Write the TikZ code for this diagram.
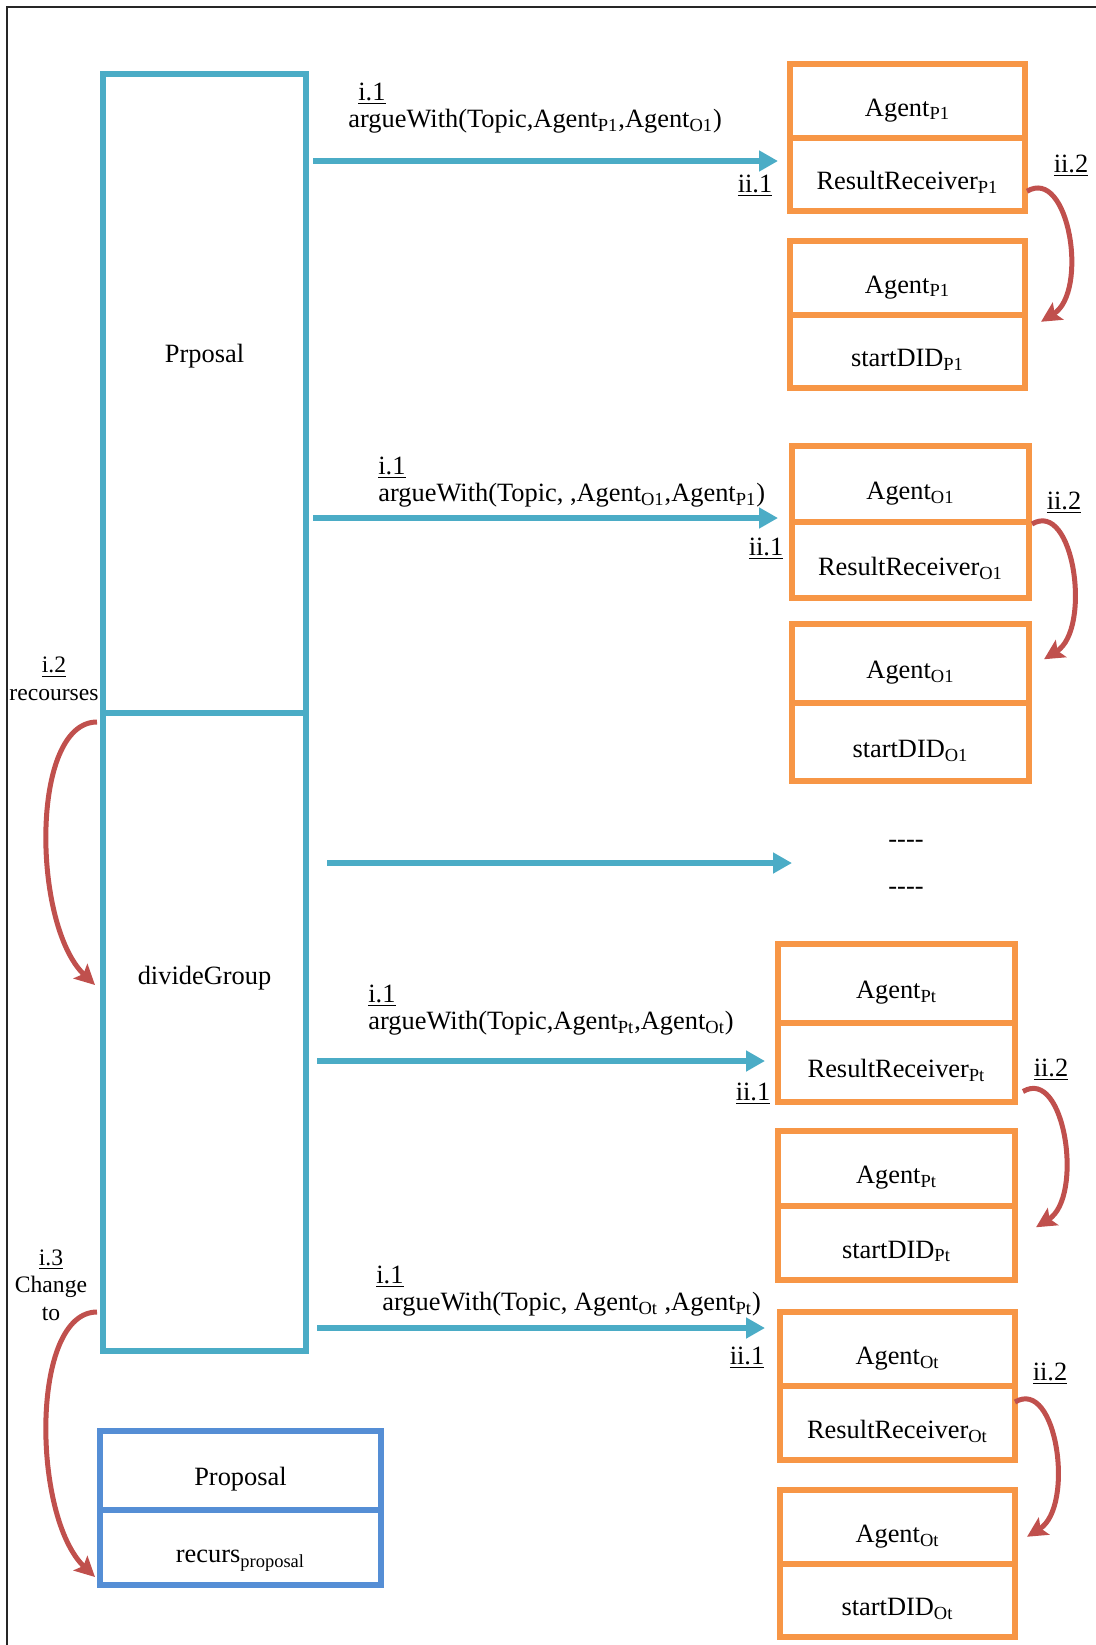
\documentclass[tikz,border=0pt]{standalone}
\usepackage{fontspec}
\setmainfont{Liberation Serif}
\usepackage{tikz}
\usetikzlibrary{positioning,arrows.meta,calc}
\definecolor{FlowCyan}{HTML}{4BACC6}
\definecolor{AgOrange}{HTML}{F79646}
\definecolor{BackRed}{HTML}{C0504D}
\definecolor{PropBlue}{HTML}{558ED5}
\newcommand{\figmain}{\fontsize{13.2}{13.5}\selectfont}
\newcommand{\figside}{\fontsize{11.8}{13.8}\selectfont}
\newcommand{\agent}[1]{Agent\textsubscript{#1}}
\newcommand{\rrecv}[1]{ResultReceiver\textsubscript{#1}}
\newcommand{\sdid}[1]{startDID\textsubscript{#1}}

\begin{document}
\begin{tikzpicture}[x=0.5pt,y=-0.5pt,
  font=\figmain, >={Triangle[length=9.5pt,width=10pt]},
  cell/.style={draw=AgOrange,line width=3pt,minimum width=117.5pt,minimum height=#1,
               inner sep=0pt,outer sep=0pt,text height=16pt,text depth=0.7pt},
  flowbox/.style={draw=FlowCyan,line width=3pt,minimum width=101.5pt,inner sep=0pt,outer sep=0pt},
  recbox/.style={draw=PropBlue,line width=3pt,minimum width=140.5pt,inner sep=0pt,outer sep=0pt,
                 text height=16pt,text depth=0.7pt},
  flow/.style={->,draw=FlowCyan,line width=3pt},
  back/.style={-{Stealth[length=10pt,width=10pt,inset=2pt]},draw=BackRed,line width=2.5pt},
  call/.style={align=left,anchor=west,inner sep=0pt},
  side/.style={align=center,inner sep=0pt,font=\figside},
  tag/.style={inner sep=0pt},
]
\useasboundingbox (0,0) rectangle (1096,1645);
\draw[line width=1pt,black!85] (1096,7) -- (7,7) -- (7,1645);

\node[flowbox,minimum height=319.5pt,anchor=north west] (prop) at (103,74) {};
\node[flowbox,minimum height=319pt,below=0pt of prop] (divide) {};
\node (proptxt) at (204.5,356) {Prposal};
\node (divtxt) at (204.5,978) {divideGroup};

\node[recbox,minimum height=39.5pt,anchor=north west] (proposal) at (100,1431) {Proposal};
\node[recbox,minimum height=37.5pt,below=0pt of proposal] (recurs) {recurs\textsubscript{proposal}};

\node[cell=36.75pt,anchor=north west] (ag1) at (790,64) {\agent{P1}};
\node[cell=36.75pt,below=0pt of ag1] (rr1) {\rrecv{P1}};
\node[cell=36.75pt,below=15pt of rr1] (ag1b) {\agent{P1}};
\node[cell=36.75pt,below=0pt of ag1b] (sd1) {\sdid{P1}};

\node[cell=38pt,minimum width=118.5pt,anchor=north west] (ag2) at (792,446) {\agent{O1}};
\node[cell=38pt,minimum width=118.5pt,below=0pt of ag2] (rr2) {\rrecv{O1}};
\node[cell=39.25pt,minimum width=118.5pt,below=13pt of rr2] (ag2b) {\agent{O1}};
\node[cell=39.25pt,minimum width=118.5pt,below=0pt of ag2b] (sd2) {\sdid{O1}};

\node[cell=39.5pt,minimum width=118.5pt,anchor=north west] (ag3) at (778,944) {\agent{Pt}};
\node[cell=39.5pt,minimum width=118.5pt,below=0pt of ag3] (rr3) {\rrecv{Pt}};
\node[cell=37.25pt,minimum width=118.5pt,below=14.5pt of rr3] (ag3b) {\agent{Pt}};
\node[cell=37.25pt,minimum width=118.5pt,below=0pt of ag3b] (sd3) {\sdid{Pt}};

\node[cell=37pt,anchor=north west] (ag4) at (780,1312) {\agent{Ot}};
\node[cell=37pt,below=0pt of ag4] (rr4) {\rrecv{Ot}};
\node[cell=36.75pt,below=15pt of rr4] (ag4b) {\agent{Ot}};
\node[cell=36.75pt,below=0pt of ag4b] (sd4) {\sdid{Ot}};

\coordinate (t1) at (778,161);
\coordinate (t2) at (778,518);
\coordinate (t3) at (792,863);
\coordinate (t4) at (765,1061);
\coordinate (t5) at (765,1328);
\draw[flow,shorten <=3.5pt] (prop.east |- t1) -- (t1);
\draw[flow,shorten <=3.5pt] (prop.east |- t2) -- (t2);
\draw[flow,shorten <=10.5pt] (divide.east |- t3) -- (t3);
\draw[flow,shorten <=5.5pt] (divide.east |- t4) -- (t4);
\draw[flow,shorten <=5.5pt] (divide.east |- t5) -- (t5);

\node[call] (c1) at (348,108) {\hspace*{5pt}\underline{i.1}\\argueWith(Topic,\agent{P1},\agent{O1})};
\node[call] (c2) at (378,482) {\underline{i.1}\\argueWith(Topic, ,\agent{O1},\agent{P1})};
\node[call] (c4) at (368,1010) {\underline{i.1}\\argueWith(Topic,\agent{Pt},\agent{Ot})};
\node[call] (c5) at (382,1291) {\hspace*{-3pt}\underline{i.1}\\argueWith(Topic, \agent{Ot} ,\agent{Pt})};

\node[tag] (r1) at (755,186) {\underline{ii.1}};
\node[tag] (r2) at (766,549) {\underline{ii.1}};
\node[tag] (r4) at (753,1094) {\underline{ii.1}};
\node[tag] (r5) at (747,1358) {\underline{ii.1}};

\node[tag] (b1) at (1071,166) {\underline{ii.2}};
\node[tag] (b2) at (1064,503) {\underline{ii.2}};
\node[tag] (b3) at (1051,1070) {\underline{ii.2}};
\node[tag] (b4) at (1050,1374) {\underline{ii.2}};

\node[tag] (dots1) at (906,844) {-\kern0pt-\kern0pt-\kern0pt-};
\node[tag] (dots2) at (906,891) {-\kern0pt-\kern0pt-\kern0pt-};

\draw[back] ($(rr1.east)+(2,17)$) .. controls ($(rr1.east)+(44,-8)$) and ($(ag1b.east)+(64,14)$) .. ($(ag1b.east)+(16,44)$);
\draw[back] ($(rr2.east)+(3,-36)$) .. controls ($(rr2.east)+(45,-61)$) and ($(ag2b.east)+(63,-34)$) .. ($(ag2b.east)+(15,-4)$);
\draw[back] ($(rr3.east)+(8,29)$) .. controls ($(rr3.east)+(50,4)$) and ($(ag3b.east)+(69,29)$) .. ($(ag3b.east)+(21,59)$);
\draw[back] ($(rr4.east)+(0,-21)$) .. controls ($(rr4.east)+(42,-46)$) and ($(ag4b.east)+(60,-20)$) .. ($(ag4b.east)+(12,10)$);

\node[side] (rec) at (54,679) {\underline{i.2}\\recourses};
\node[side] (chg) at (51,1285) {\underline{i.3}\\Change\\to};
\draw[back] ($(divide.north west)+(-6,9)$) .. controls ($(divide.north west)+(-73,9)$) and ($(divide.north west)+(-71,212)$) .. ($(divide.north west)+(-8,272)$);
\draw[back] ($(divide.south west)+(-6,-39)$) .. controls ($(divide.south west)+(-73,-39)$) and ($(recurs.west)+(-68,-30.5)$) .. ($(recurs.west)+(-5,29.5)$);
\end{tikzpicture}
\end{document}
